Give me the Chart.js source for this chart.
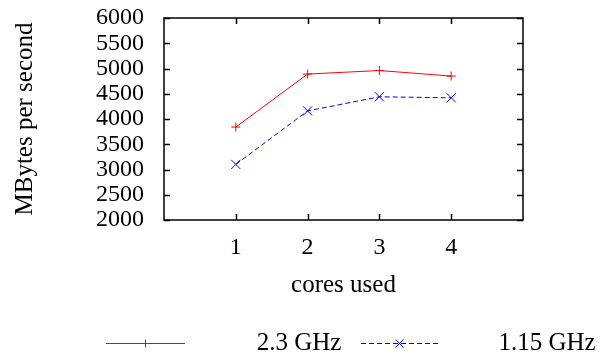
<!DOCTYPE html>
<html>
<head>
<meta charset="utf-8">
<script src="https://cdn.jsdelivr.net/npm/chart.js@4"></script>
<style>
  html, body { margin: 0; padding: 0; background: #fff; }
  #wrap { width: 608px; height: 354px; }
</style>
</head>
<body>
<div id="wrap"><canvas id="coresChart" width="608" height="354"></canvas></div>
<script>
const cores = [1, 2, 3, 4];
const mbps23 = [3840, 4890, 4960, 4850];
const mbps115 = [3100, 4160, 4440, 4420];
const seriesLabels = ['2.3 GHz', '1.15 GHz'];
const yTicks = [2000, 2500, 3000, 3500, 4000, 4500, 5000, 5500, 6000];

const serif = '"Liberation Serif", "DejaVu Serif", serif';

function toPoints(ys) {
    return cores.map((c, i) => ({ x: c, y: ys[i] }));
}

// gnuplot-like frame with inward ticks on all four sides
const framePlugin = {
    id: 'frame',
    afterDatasetsDraw(chart) {
        const { ctx, chartArea: a, scales } = chart;
        ctx.save();
        ctx.strokeStyle = '#000';
        ctx.lineWidth = 1.5;
        ctx.beginPath();
        scales.y.ticks.forEach(t => {
            const py = Math.round(scales.y.getPixelForValue(t.value)) + 0.5;
            ctx.moveTo(a.left, py); ctx.lineTo(a.left + 6, py);
            ctx.moveTo(a.right, py); ctx.lineTo(a.right - 6, py);
        });
        scales.x.ticks.forEach(t => {
            const px = Math.round(scales.x.getPixelForValue(t.value)) + 0.5;
            ctx.moveTo(px, a.bottom); ctx.lineTo(px, a.bottom - 6);
            ctx.moveTo(px, a.top); ctx.lineTo(px, a.top + 6);
        });
        ctx.stroke();
        ctx.strokeRect(a.left, a.top, a.right - a.left, a.bottom - a.top);
        ctx.restore();
    }
};

// legend in the bottom row: sample line with marker, then the label
const keyPlugin = {
    id: 'key',
    afterDraw(chart) {
        const ctx = chart.ctx;
        const slots = [
            { x0: 106, x1: 185, tx: 299 },
            { x0: 361, x1: 438, tx: 547 }
        ];
        const y = 343.5;
        chart.data.datasets.forEach((ds, i) => {
            const s = slots[i];
            ctx.save();
            ctx.strokeStyle = ds.borderColor;
            ctx.lineWidth = 1;
            ctx.setLineDash(ds.borderDash || []);
            ctx.beginPath();
            ctx.moveTo(s.x0, y); ctx.lineTo(s.x1, y);
            ctx.stroke();
            ctx.setLineDash([]);
            const mx = (s.x0 + s.x1) / 2;
            const r = 4;
            ctx.beginPath();
            if (ds.pointStyle === 'cross') {
                ctx.moveTo(mx - r, y); ctx.lineTo(mx + r, y);
                ctx.moveTo(mx, y - r); ctx.lineTo(mx, y + r);
            } else {
                ctx.moveTo(mx - r, y - r); ctx.lineTo(mx + r, y + r);
                ctx.moveTo(mx - r, y + r); ctx.lineTo(mx + r, y - r);
            }
            ctx.stroke();
            ctx.fillStyle = '#000';
            ctx.font = '25px ' + serif;
            ctx.textAlign = 'center';
            ctx.textBaseline = 'alphabetic';
            ctx.fillText(ds.label, s.tx, 349.5);
            ctx.restore();
        });
    }
};

const ctx = document.getElementById('coresChart').getContext('2d');
new Chart(ctx, {
    type: 'line',
    data: {
        datasets: [{
            label: seriesLabels[0],
            data: toPoints(mbps23),
            borderColor: '#ff0000',
            backgroundColor: '#ff0000',
            borderWidth: 1,
            pointStyle: 'cross',
            pointRadius: 4.5,
            pointBorderWidth: 1,
            tension: 0
        }, {
            label: seriesLabels[1],
            data: toPoints(mbps115),
            borderColor: '#0000ff',
            backgroundColor: '#0000ff',
            borderWidth: 1,
            borderDash: [5, 3],
            pointStyle: 'crossRot',
            pointRadius: 6.5,
            pointBorderWidth: 1,
            tension: 0
        }]
    },
    options: {
        responsive: false,
        animation: false,
        layout: { padding: { top: 18, right: 85, bottom: 0, left: 0 } },
        plugins: {
            legend: { display: false },
            tooltip: { enabled: false }
        },
        scales: {
            x: {
                type: 'linear',
                min: 0,
                max: 5,
                afterBuildTicks: s => { s.ticks = cores.map(v => ({ value: v })); },
                afterFit: s => { s.height = 134; s.paddingLeft = 0; s.paddingRight = 0; },
                grid: { display: false, drawTicks: false },
                border: { display: false },
                ticks: {
                    autoSkip: false,
                    maxRotation: 0,
                    padding: 13,
                    color: '#000',
                    font: { family: serif, size: 24 },
                    callback: v => String(v)
                },
                title: {
                    display: true,
                    text: 'cores used',
                    color: '#000',
                    font: { family: serif, size: 25 },
                    padding: { top: 0, bottom: 54 }
                }
            },
            y: {
                min: 2000,
                max: 6000,
                afterBuildTicks: s => { s.ticks = yTicks.map(v => ({ value: v })); },
                afterFit: s => { s.width = 164; s.paddingTop = 0; s.paddingBottom = 0; },
                grid: { display: false, drawTicks: false },
                border: { display: false },
                ticks: {
                    autoSkip: false,
                    padding: 20,
                    color: '#000',
                    font: { family: serif, size: 24 },
                    callback: v => String(v)
                },
                title: {
                    display: true,
                    text: 'MBytes per second',
                    color: '#000',
                    font: { family: serif, size: 25 },
                    padding: { top: 10, bottom: 0 }
                }
            }
        }
    },
    plugins: [framePlugin, keyPlugin]
});
</script>
</body>
</html>
